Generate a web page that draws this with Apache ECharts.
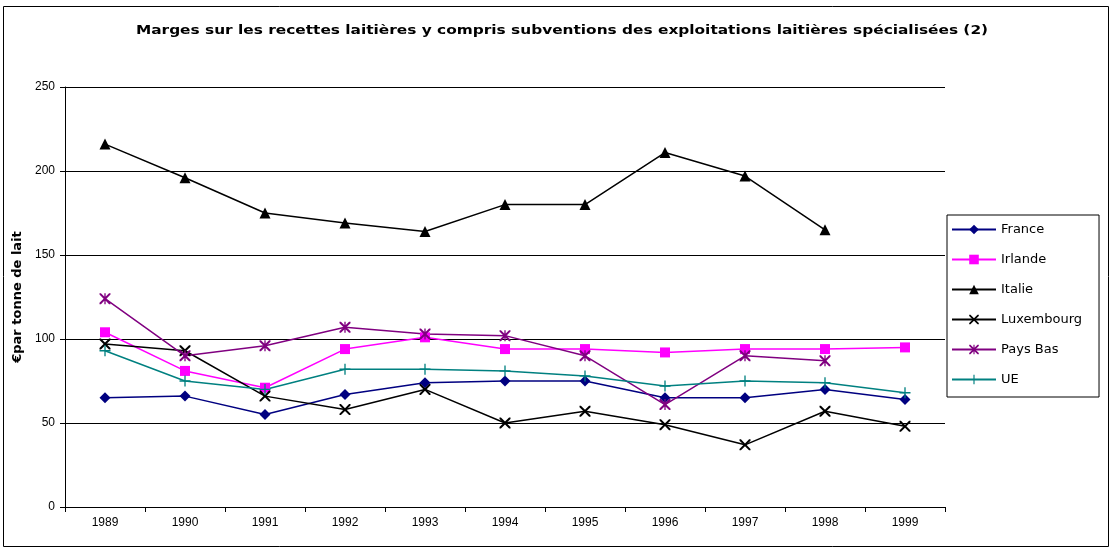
<!DOCTYPE html>
<html>
<head>
<meta charset="utf-8">
<script src="https://cdn.jsdelivr.net/npm/echarts@6/dist/echarts.min.js"></script>
<style>
html, body { margin: 0; padding: 0; background: #fff; }
#chart { width: 1112px; height: 549px; }
</style>
</head>
<body>
<div id="chart"></div>
<script>
// annees
var years = ['1989', '1990', '1991', '1992', '1993', '1994', '1995', '1996', '1997', '1998', '1999'];

// marges par pays (€ par tonne de lait)
var france     = [65, 66, 55, 67, 74, 75, 75, 65, 65, 70, 64];
var irlande    = [104, 81, 71, 94, 101, 94, 94, 92, 94, 94, 95];
var italie     = [216, 196, 175, 169, 164, 180, 180, 211, 197, 165, null];
var luxembourg = [97, 93, 66, 58, 70, 50, 57, 49, 37, 57, 48];
var paysBas    = [124, 90, 96, 107, 103, 102, 90, 61, 90, 87, null];
var ue         = [93, 75, 70, 82, 82, 81, 78, 72, 75, 74, 68];

var yTicks = [0, 50, 100, 150, 200, 250];

var titre = 'Marges sur les recettes laitières y compris subventions des exploitations laitières spécialisées (2)';

var symX = 'path://M0,0 L1.3,0 L5,3.7 L8.7,0 L10,0 L10,1.3 L6.3,5 L10,8.7 L10,10 L8.7,10 L5,6.3 L1.3,10 L0,10 L0,8.7 L3.7,5 L0,1.3 Z';
var symPlus = 'path://M4.4,0 H5.6 V4.4 H10 V5.6 H5.6 V10 H4.4 V5.6 H0 V4.4 H4.4 Z';
var symStar = 'path://M0,0 L1.3,0 L5,3.7 L8.7,0 L10,0 L10,1.3 L6.3,5 L10,8.7 L10,10 L8.7,10 L5,6.3 L1.3,10 L0,10 L0,8.7 L3.7,5 L0,1.3 Z M4.4,0 H5.6 V10 H4.4 Z';

function mkSeries(name, data, color, symbol, size) {
    return {
        name: name,
        type: 'line',
        data: data,
        symbol: symbol,
        symbolSize: size,
        showSymbol: true,
        connectNulls: false,
        animation: false,
        lineStyle: { color: color, width: 1.5 },
        itemStyle: { color: color },
        emphasis: { disabled: true }
    };
}

var myChart = echarts.init(document.getElementById('chart'), null, { renderer: 'canvas' });

var option = {
    backgroundColor: '#fff',
    animation: false,
    graphic: [{
        type: 'rect',
        shape: { x: 3.5, y: 6.5, width: 1105, height: 540 },
        style: { fill: 'none', stroke: '#000', lineWidth: 1 },
        silent: true,
        z: -1
    }, {
        // titre un peu etire comme dans l'original
        type: 'text',
        x: 562,
        y: 31,
        scaleX: 1.28,
        style: {
            text: titre,
            font: 'bold 12px "DejaVu Sans"',
            fill: '#000',
            textAlign: 'center',
            textVerticalAlign: 'middle'
        },
        silent: true
    }],
    legend: {
        orient: 'vertical',
        left: 947,
        top: 215,
        width: 153,
        padding: [8, 17, 11, 4],
        itemWidth: 44,
        itemHeight: 12,
        itemGap: 17,
        backgroundColor: '#fff',
        borderColor: '#000',
        borderWidth: 1,
        textStyle: { fontFamily: 'DejaVu Sans', fontSize: 13, color: '#000' },
        data: ['France', 'Irlande', 'Italie', 'Luxembourg', 'Pays Bas', 'UE']
    },
    grid: {
        left: 65,
        right: 167,
        top: 87,
        bottom: 42,
        containLabel: false
    },
    xAxis: {
        type: 'category',
        data: years,
        boundaryGap: true,
        axisLine: { lineStyle: { color: '#000', width: 1 } },
        axisTick: { show: true, length: 5, lineStyle: { color: '#000' } },
        axisLabel: { color: '#000', fontFamily: 'Arial, Liberation Sans', fontSize: 12, margin: 10 },
        splitLine: { show: false }
    },
    yAxis: {
        type: 'value',
        min: yTicks[0],
        max: yTicks[yTicks.length - 1],
        interval: 50,
        name: '€par tonne de lait',
        nameLocation: 'middle',
        nameGap: 40,
        nameTextStyle: { fontFamily: 'DejaVu Sans', fontWeight: 'bold', fontSize: 13, color: '#000' },
        axisLine: { show: true, lineStyle: { color: '#000', width: 1 } },
        axisTick: { show: true, length: 5, lineStyle: { color: '#000' } },
        axisLabel: { color: '#000', fontFamily: 'Arial, Liberation Sans', fontSize: 12, margin: 10 },
        splitLine: { show: true, lineStyle: { color: '#000', width: 1 } }
    },
    series: [
        mkSeries('France', france, '#000080', 'diamond', 11),
        mkSeries('Irlande', irlande, '#ff00ff', 'rect', 10),
        mkSeries('Italie', italie, '#000000', 'triangle', 11),
        mkSeries('Luxembourg', luxembourg, '#000000', symX, 11),
        mkSeries('Pays Bas', paysBas, '#800080', symStar, 11),
        mkSeries('UE', ue, '#008080', symPlus, 11)
    ]
};

myChart.setOption(option);
</script>
</body>
</html>
